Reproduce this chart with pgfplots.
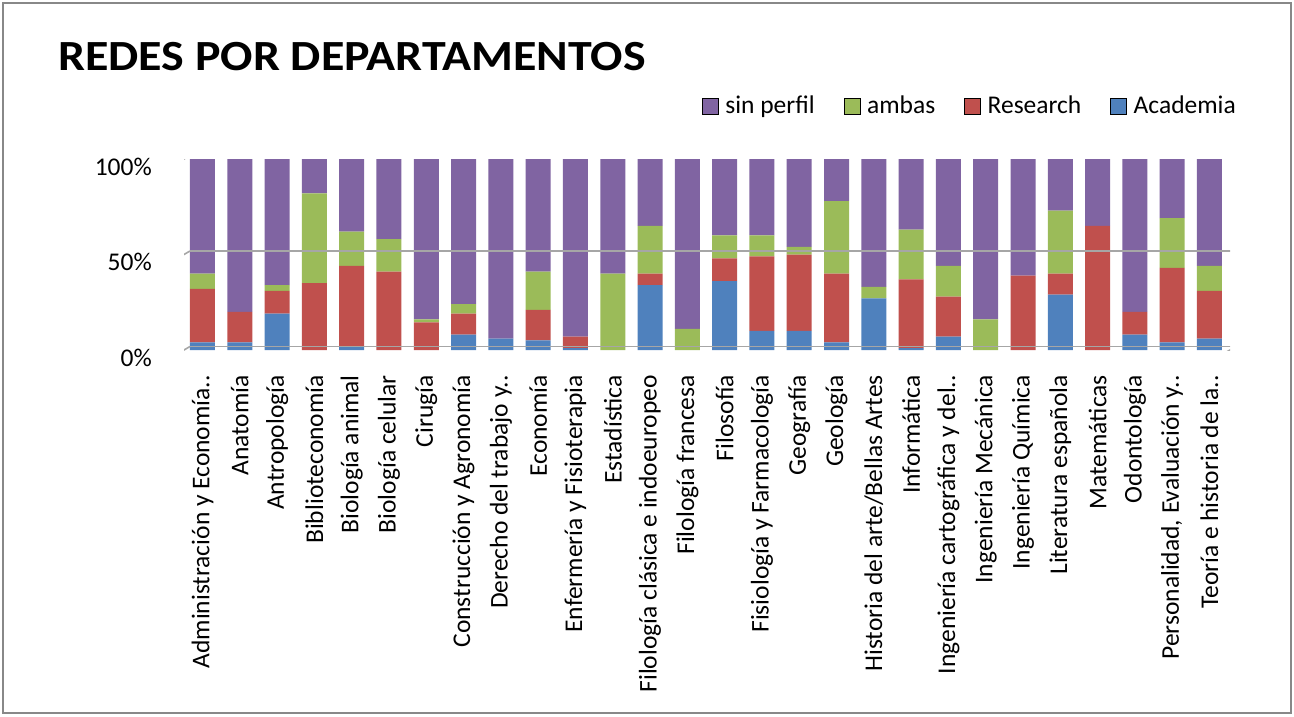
\documentclass[border=0pt]{standalone}
\usepackage{pgfplots}
\pgfplotsset{compat=1.18}
\usepackage{pgfplotstable}
\usepackage{fontspec}
\setmainfont{Carlito}
\definecolor{cPur}{HTML}{8064A2}
\definecolor{cGre}{HTML}{9BBB59}
\definecolor{cRed}{HTML}{C0504D}
\definecolor{cBlu}{HTML}{4F81BD}
\definecolor{cFrame}{HTML}{888888}
\definecolor{cGrid}{HTML}{A6A6A6}
\pgfplotstableread{
x aca res amb sin
0 4 28 8 60
1 4 16 0 80
2 19 12 3 66
3 0 35 47 18
4 2 42 18 38
5 0 41 17 42
6 0 14.5 1.5 84
7 8 11 5 76
8 6 0 0 94
9 5 16 20 59
10 1 6 0 93
11 0 0 40 60
12 34 6 25 35
13 0 0 11 89
14 36 12 12 40
15 10 39 11 40
16 10 40 4 46
17 4 36 38 22
18 27 0 6 67
19 1 36 26 37
20 7 21 16 56
21 0 0 16 84
22 0 39 0 61
23 29 11 33 27
24 0 65 0 35
25 8 12 0 80
26 4 39 26 31
27 6 25 13 56
}\data
\begin{document}
\begin{tikzpicture}
\useasboundingbox (0,0) rectangle (1294pt,716pt);
\draw[cFrame, line width=2pt] (3pt,3pt) rectangle (1291pt,713pt);
\node[anchor=base west, inner sep=0pt, font=\fontsize{43}{50}\selectfont\bfseries] at (58pt,645pt) {\scalebox{1.115}[1]{REDES POR DEPARTAMENTOS}};
\begin{axis}[
  at={(184pt,366pt)}, anchor=south west,
  scale only axis, width=1046pt, height=191pt,
  xmin=-0.496, xmax=27.55, ymin=0, ymax=100,
  ybar stacked, bar width=25pt,
  axis line style={draw=none},
  major tick length=0pt,
  xtick=data,
  xticklabels={Administración y Economía..,Anatomía,Antropología,Biblioteconomía,Biología animal,Biología celular,Cirugía,Construcción y Agronomía,Derecho del trabajo y..,Economía,Enfermería y Fisioterapia,Estadística,Filología clásica e indoeuropeo,Filología francesa,Filosofía,Fisiología y Farmacología,Geografía,Geología,Historia del arte/Bellas Artes,Informática,Ingeniería cartográfica y del..,Ingeniería Mecánica,Ingeniería Química,Literatura española,Matemáticas,Odontología,{Personalidad, Evaluación y..},Teoría e historia de la..},
  xticklabel style={rotate=90, anchor=east, inner sep=0pt, font=\fontsize{25.5}{30}\selectfont},
  xticklabel shift=25pt,
  ytick={0,50,100}, yticklabels={0\%,50\%,100\%},
  yticklabel style={inner sep=0pt, anchor=east, yshift=-7.5pt, font=\fontsize{25.5}{30}\selectfont},
  yticklabel shift=32pt,
  legend columns=4,
  legend image code/.code={\fill[#1] (0pt,-8pt) rectangle (16pt,8pt);},
  legend style={at={(rel axis cs:1.0057,1.279)}, anchor=east, draw=none, fill=none, inner sep=0pt,
    font=\fontsize{25.5}{30}\selectfont,
    nodes={inner sep=0pt},
    /tikz/every odd column/.append style={column sep=7pt},
    /tikz/every even column/.append style={column sep=29pt}},
]
% 3D-like frame (walls and floor)
\draw[cGrid, line width=1.6pt] ([shift={(6pt,3.5pt)}]rel axis cs:0,1) -- ([shift={(6pt,3.5pt)}]rel axis cs:1,1);
\draw[cGrid, line width=1.6pt] ([shift={(6pt,3.5pt)}]rel axis cs:0,0.5) -- ([shift={(6pt,3.5pt)}]rel axis cs:1,0.5);
\draw[cGrid, line width=1.6pt] ([shift={(6pt,3.5pt)}]rel axis cs:0,0) -- ([shift={(6pt,3.5pt)}]rel axis cs:1,0);
\draw[cGrid, line width=1.6pt] ([shift={(-6pt,-3.5pt)}]rel axis cs:0,1) -- ([shift={(6pt,3.5pt)}]rel axis cs:0,1);
\draw[cGrid, line width=1.6pt] ([shift={(-6pt,-3.5pt)}]rel axis cs:0,0.5) -- ([shift={(6pt,3.5pt)}]rel axis cs:0,0.5);
\draw[cGrid, line width=1.6pt] ([shift={(-6pt,-3.5pt)}]rel axis cs:0,0) -- ([shift={(6pt,3.5pt)}]rel axis cs:0,0);
\draw[cGrid, line width=1.6pt] ([shift={(-6pt,-3.5pt)}]rel axis cs:1,0) -- ([shift={(6pt,3.5pt)}]rel axis cs:1,0);
\draw[cGrid, line width=1.6pt] ([shift={(-6pt,-3.5pt)}]rel axis cs:0,0) -- ([shift={(-6pt,-3.5pt)}]rel axis cs:0,1);
\draw[cGrid, line width=1.6pt] ([shift={(-6pt,-3.5pt)}]rel axis cs:0,0) -- ([shift={(-6pt,-3.5pt)}]rel axis cs:1,0);
\addlegendimage{fill=cPur}\addlegendentry{sin perfil}
\addlegendimage{fill=cGre}\addlegendentry{ambas}
\addlegendimage{fill=cRed}\addlegendentry{Research}
\addlegendimage{fill=cBlu}\addlegendentry{Academia}
\addplot[forget plot, draw=none, fill=cBlu] table[x=x,y=aca]{\data};
\addplot[forget plot, draw=none, fill=cRed] table[x=x,y=res]{\data};
\addplot[forget plot, draw=none, fill=cGre] table[x=x,y=amb]{\data};
\addplot[forget plot, draw=none, fill=cPur] table[x=x,y=sin]{\data};
\end{axis}
\end{tikzpicture}
\end{document}
